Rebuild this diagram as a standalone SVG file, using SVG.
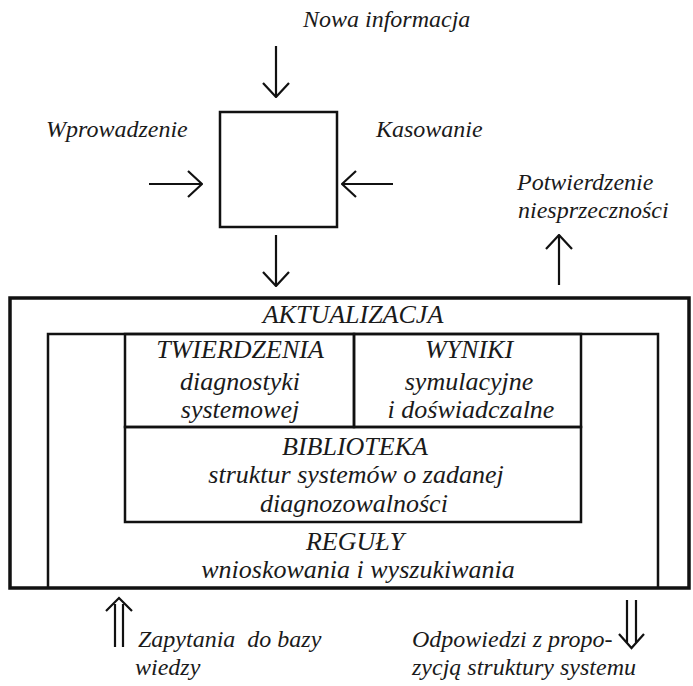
<svg xmlns="http://www.w3.org/2000/svg" width="693" height="686" viewBox="0 0 693 686">
<style>
  text { font-family: "Liberation Serif", "Times New Roman", serif; font-style: italic; fill: #1a1a1a; }
  .lbl { font-size: 24px; }
  .box { font-size: 26px; text-anchor: middle; }
  .frame { fill: none; stroke: #111; stroke-width: 2.5; }
  .thick { fill: none; stroke: #111; stroke-width: 3.5; }
  .arrow { fill: none; stroke: #111; stroke-width: 2.2; }
</style>
<defs>
  <marker id="head" viewBox="0 0 16 28" refX="15" refY="14" markerWidth="16" markerHeight="28" markerUnits="userSpaceOnUse" orient="auto">
    <path d="M1,1 L15,14 L1,27" fill="none" stroke="#111" stroke-width="2.2"/>
  </marker>
</defs>
<rect width="693" height="686" fill="#fff"/>

<g id="buffer">
  <rect class="frame" x="220" y="112" width="117" height="115"/>
</g>

<g id="labels-top">
  <text class="lbl" x="303" y="27">Nowa informacja</text>
  <text class="lbl" x="46" y="137">Wprowadzenie</text>
  <text class="lbl" x="376" y="137">Kasowanie</text>
  <text class="lbl" x="517" y="190">Potwierdzenie</text>
  <text class="lbl" x="518" y="218">niesprzeczności</text>
</g>

<g id="knowledge-base">
  <path class="thick" d="M10,298 H689 V588 H10 Z"/>
  <path class="frame" d="M48,588 V334 H658 V588"/>
  <text class="box" x="353" y="323">AKTUALIZACJA</text>
</g>

<g id="twierdzenia">
  <rect class="frame" x="125" y="334" width="229" height="93"/>
  <text class="box" x="240" y="358">TWIERDZENIA</text>
  <text class="box" x="240" y="390">diagnostyki</text>
  <text class="box" x="240" y="418">systemowej</text>
</g>

<g id="wyniki">
  <rect class="frame" x="354" y="334" width="227" height="93"/>
  <text class="box" x="469" y="358">WYNIKI</text>
  <text class="box" x="469" y="390">symulacyjne</text>
  <text class="box" x="471" y="418">i doświadczalne</text>
</g>

<g id="biblioteka">
  <rect class="frame" x="125" y="427" width="456" height="95"/>
  <text class="box" x="355" y="455">BIBLIOTEKA</text>
  <text class="box" x="356" y="483">struktur systemów o zadanej</text>
  <text class="box" x="354" y="512">diagnozowalności</text>
</g>

<g id="reguly">
  <text class="box" x="355" y="550">REGUŁY</text>
  <text class="box" x="358" y="578">wnioskowania i wyszukiwania</text>
</g>

<g id="labels-bottom">
  <text class="lbl" x="138" y="647" xml:space="preserve">Zapytania  do bazy</text>
  <text class="lbl" x="135" y="675">wiedzy</text>
  <text class="lbl" x="412" y="647">Odpowiedzi z propo-</text>
  <text class="lbl" x="412" y="675">zycją struktury systemu</text>
</g>

<g id="connectors">
  <line class="arrow" x1="276" y1="46" x2="276" y2="97" marker-end="url(#head)"/>
  <line class="arrow" x1="149" y1="184" x2="202" y2="184" marker-end="url(#head)"/>
  <line class="arrow" x1="393" y1="184" x2="342" y2="184" marker-end="url(#head)"/>
  <line class="arrow" x1="276" y1="235" x2="276" y2="286" marker-end="url(#head)"/>
  <line class="arrow" x1="559" y1="285" x2="559" y2="235" marker-end="url(#head)"/>
  <path class="arrow" d="M115,647 V604 M123,647 V604 M106,611 L119,598 L132,611"/>
  <path class="arrow" d="M627,600 V643 M636,600 V643 M619,634 L631.5,648 L644,634"/>
</g>
</svg>
